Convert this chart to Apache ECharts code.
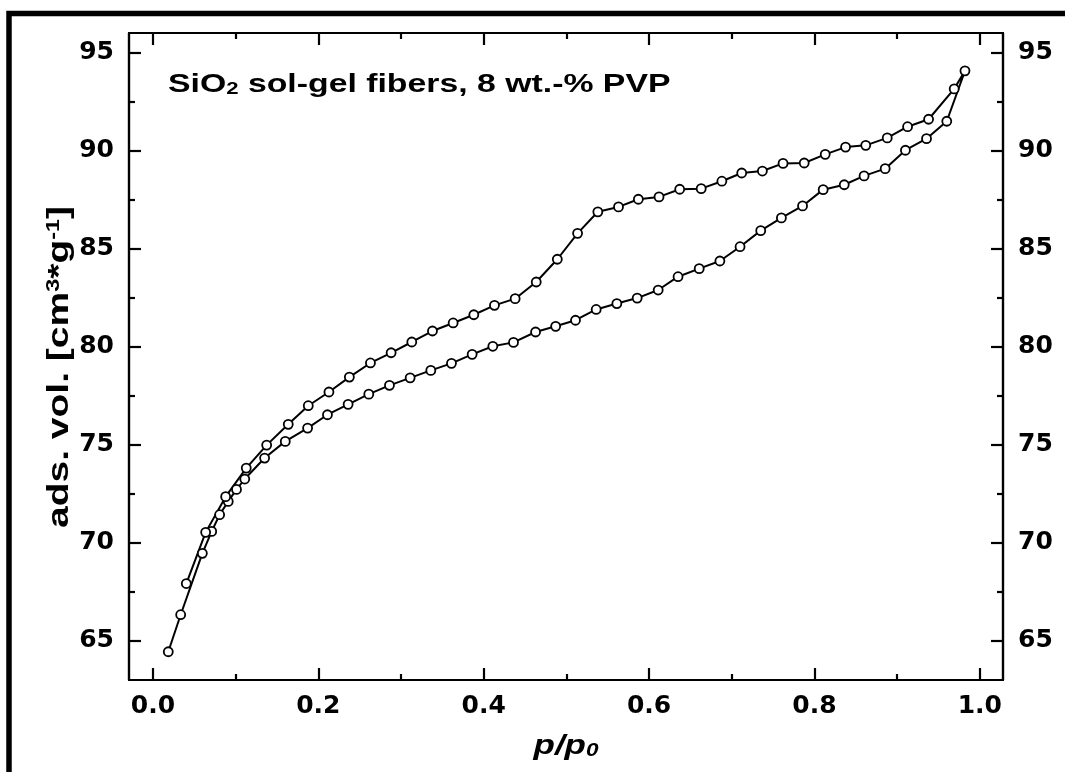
<!DOCTYPE html>
<html>
<head>
<meta charset="utf-8">
<script src="https://cdn.jsdelivr.net/npm/echarts@6/dist/echarts.min.js"></script>
<style>
  html, body { margin: 0; padding: 0; background: #fff; }
  #chart { width: 1065px; height: 772px; }
</style>
</head>
<body>
<div id="chart"></div>
<script>
// Nitrogen sorption isotherm: relative pressure p/p0 vs adsorbed volume
const adsX = [0.0185, 0.0335, 0.0597, 0.071, 0.0806, 0.091, 0.101, 0.111, 0.135, 0.160, 0.187, 0.211, 0.236, 0.261, 0.286, 0.311, 0.336, 0.361, 0.386, 0.411, 0.436, 0.4627, 0.487, 0.511, 0.536, 0.561, 0.5856, 0.611, 0.635, 0.6606, 0.6856, 0.710, 0.735, 0.760, 0.7856, 0.8105, 0.836, 0.860, 0.8855, 0.910, 0.9355, 0.960, 0.982];
const adsY = [64.44, 66.33, 69.46, 70.58, 71.43, 72.11, 72.72, 73.25, 74.32, 75.17, 75.85, 76.53, 77.06, 77.58, 78.03, 78.41, 78.79, 79.15, 79.61, 80.02, 80.22, 80.75, 81.04, 81.35, 81.90, 82.20, 82.48, 82.89, 83.57, 83.98, 84.37, 85.10, 85.92, 86.57, 87.18, 88.01, 88.26, 88.71, 89.08, 90.02, 90.61, 91.50, 94.07];
const desX = [0.969, 0.938, 0.9126, 0.888, 0.862, 0.8376, 0.813, 0.7876, 0.762, 0.737, 0.712, 0.688, 0.663, 0.637, 0.612, 0.587, 0.563, 0.538, 0.5135, 0.489, 0.4635, 0.438, 0.413, 0.388, 0.363, 0.338, 0.313, 0.288, 0.263, 0.2375, 0.2128, 0.1878, 0.1636, 0.1375, 0.1128, 0.0879, 0.0637, 0.0403];
const desY = [93.15, 91.60, 91.22, 90.65, 90.27, 90.18, 89.81, 89.37, 89.35, 88.96, 88.86, 88.44, 88.06, 88.03, 87.64, 87.52, 87.13, 86.88, 85.78, 84.46, 83.30, 82.45, 82.11, 81.63, 81.21, 80.80, 80.24, 79.69, 79.17, 78.45, 77.69, 76.99, 76.04, 74.98, 73.81, 72.35, 70.53, 67.92];

// tick positions
const xMajor = [0.0, 0.2, 0.4, 0.6, 0.8, 1.0];
const xMinor = [0.1, 0.3, 0.5, 0.7, 0.9];
const yMajor = [65, 70, 75, 80, 85, 90, 95];
const yMinor = [67.5, 72.5, 77.5, 82.5, 87.5, 92.5];

const TICK_FONT = 'DejaVu Sans, Liberation Sans, sans-serif';
const TEXT_FONT = 'Liberation Sans, Arial, sans-serif';
const X_RANGE = [-0.029, 1.028];
const Y_RANGE = [63, 96];
const STRETCH = 1.3;   // wide-set lettering of the annotation and axis titles

// adsorption branch followed by desorption branch, one continuous trace
const loop = adsX.map((x, i) => [x, adsY[i]])
  .concat(desX.map((x, i) => [x, desY[i]]));

const labelStyle = {
  color: '#000', fontFamily: TICK_FONT, fontWeight: 'bold', fontSize: 25
};

function xAxisDef(position, ticks, len, withLabels) {
  return {
    type: 'value', position: position, min: X_RANGE[0], max: X_RANGE[1],
    axisLine: { show: true, onZero: false, lineStyle: { color: '#000', width: 2.2 } },
    axisTick: { show: true, inside: true, length: len, customValues: ticks,
                lineStyle: { color: '#000', width: 2.2 } },
    axisLabel: Object.assign({ show: withLabels, customValues: ticks, margin: 14,
                formatter: v => v.toFixed(1) }, labelStyle),
    splitLine: { show: false }
  };
}
function yAxisDef(position, ticks, len, withLabels) {
  return {
    type: 'value', position: position, min: Y_RANGE[0], max: Y_RANGE[1],
    axisLine: { show: true, onZero: false, lineStyle: { color: '#000', width: 2.2 } },
    axisTick: { show: true, inside: true, length: len, customValues: ticks,
                lineStyle: { color: '#000', width: 2.2 } },
    axisLabel: Object.assign({ show: withLabels, customValues: ticks, margin: 15,
                formatter: v => String(v) }, labelStyle),
    splitLine: { show: false }
  };
}

const chart = echarts.init(document.getElementById('chart'), null, { renderer: 'canvas' });

chart.setOption({
  animation: false,
  backgroundColor: '#fff',
  grid: { left: 129, right: 62, top: 33, bottom: 92, containLabel: false },
  xAxis: [
    xAxisDef('bottom', xMajor, 12, true),
    xAxisDef('bottom', xMinor, 6, false),
    xAxisDef('top', xMajor, 12, false),
    xAxisDef('top', xMinor, 6, false)
  ],
  yAxis: [
    yAxisDef('left', yMajor, 12, true),
    yAxisDef('left', yMinor, 6, false),
    yAxisDef('right', yMajor, 12, true),
    yAxisDef('right', yMinor, 6, false)
  ],
  series: [{
    type: 'line',
    xAxisIndex: 0, yAxisIndex: 0,
    data: loop,
    symbol: 'circle', symbolSize: 9,
    itemStyle: { color: '#fff', borderColor: '#000', borderWidth: 1.8 },
    lineStyle: { color: '#000', width: 2 },
    z: 5
  }],
  graphic: [
    { // outer frame
      type: 'rect', silent: true, z: 100,
      shape: { x: 9, y: 13.5, width: 1200, height: 900 },
      style: { fill: null, stroke: '#000', lineWidth: 5.5 }
    },
    {
      type: 'text', x: 168, y: 83, scaleX: STRETCH, z: 50,
      style: {
        text: '{b|SiO}{s|2}{b| sol-gel fibers, 8 wt.-% PVP}', align: 'left', verticalAlign: 'middle',
        rich: {
          b: { fontFamily: TEXT_FONT, fontWeight: 'bold', fontSize: 26, lineHeight: 30, verticalAlign: 'bottom', fill: '#000' },
          s: { fontFamily: TEXT_FONT, fontWeight: 'bold', fontSize: 17, lineHeight: 12, verticalAlign: 'bottom', fill: '#000' }
        }
      }
    },
    {
      type: 'text', x: 566, y: 744, scaleX: 1.25, z: 50,
      style: {
        text: '{i|p/p}{s|0}', align: 'center', verticalAlign: 'middle',
        rich: {
          i: { fontFamily: TEXT_FONT, fontWeight: 'bold', fontStyle: 'italic', fontSize: 28, lineHeight: 32, verticalAlign: 'bottom', fill: '#000' },
          s: { fontFamily: TEXT_FONT, fontWeight: 'bold', fontStyle: 'italic', fontSize: 18, lineHeight: 12, verticalAlign: 'bottom', fill: '#000' }
        }
      }
    },
    {
      type: 'text', x: 62, y: 367, rotation: Math.PI / 2, scaleX: STRETCH, z: 50,
      style: {
        text: '{b|ads. vol. [cm}{p|3}{b|*g}{p|-1}{b|]}', align: 'center', verticalAlign: 'middle',
        rich: {
          b: { fontFamily: TEXT_FONT, fontWeight: 'bold', fontSize: 30, lineHeight: 34, verticalAlign: 'top', fill: '#000' },
          p: { fontFamily: TEXT_FONT, fontWeight: 'bold', fontSize: 18, lineHeight: 14, verticalAlign: 'top', fill: '#000' }
        }
      }
    }
  ]
});
</script>
</body>
</html>
